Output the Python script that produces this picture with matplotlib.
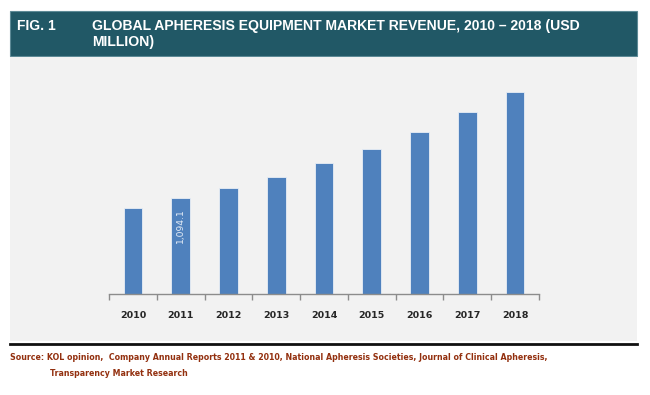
"""
Global apheresis equipment market revenue 2010-2018 (USD million)
"""

import numpy as np
import matplotlib
matplotlib.use("Agg")
import matplotlib.pyplot as plt
from matplotlib.patches import Rectangle

# data
years = ["2010", "2011", "2012", "2013", "2014", "2015", "2016", "2017", "2018"]
revenue = [984, 1094.1, 1211, 1337, 1493, 1656, 1850, 2071, 2306]
labelled = {1: "1,094.1"}

title_fig = "FIG. 1"
title_text = "GLOBAL APHERESIS EQUIPMENT MARKET REVENUE, 2010 \u2013 2018 (USD\nMILLION)"
source_1 = ("Source: KOL opinion,  Company Annual Reports 2011 & 2010, National Apheresis "
            "Societies, Journal of Clinical Apheresis,")
source_2 = "Transparency Market Research"

W, H = 650, 395
fig = plt.figure(figsize=(W / 100, H / 100), dpi=100)
fig.patch.set_facecolor("white")

def px(x, y, w, h):
    # pixel box (top-left origin) -> figure fraction
    return [x / W, 1 - (y + h) / H, w / W, h / H]

# header bar and grey panel
fig.patches.append(Rectangle((10 / W, 1 - 56 / H), 627 / W, 44.5 / H, transform=fig.transFigure,
                             facecolor="#215866", edgecolor="#5d8a96", lw=0.8, zorder=-2))
fig.patches.append(Rectangle((10 / W, 1 - 341 / H), 627 / W, 284 / H, transform=fig.transFigure,
                             facecolor="#f2f2f2", edgecolor="none", zorder=-2))
fig.lines.append(plt.Line2D([10 / W, 637 / W], [1 - 344 / H, 1 - 344 / H],
                            transform=fig.transFigure, color="#111111", lw=2.0))

fig.text(17 / W, 1 - 26 / H, title_fig, color="white", fontsize=10, fontweight="bold",
         family="Liberation Sans", va="center", ha="left")
fig.text(92 / W, 1 - 34 / H, title_text, color="white", fontsize=10.1, fontweight="bold",
         family="Liberation Sans", va="center", ha="left", linespacing=1.15)

fig.text(10 / W, 1 - 358 / H, source_1, color="#93300f", fontsize=5.65, fontweight="bold",
         va="center", ha="left")
fig.text(50 / W, 1 - 374 / H, source_2, color="#93300f", fontsize=5.65, fontweight="bold",
         va="center", ha="left")

# chart
ymax = 2500
scale = 1094.1 / 96.0
top_px = 294 - ymax / scale
ax = fig.add_axes(px(109, top_px, 430, 294 - top_px))
ax.set_zorder(5)
ax.set_facecolor("none")
x = np.arange(len(years))
ax.bar(x, revenue, width=0.39, color="#4f81bd", edgecolor="#e8eef6", linewidth=0.6, zorder=2)
for i, txt in labelled.items():
    ax.annotate(txt, (x[i], revenue[i]), xytext=(0, -7.5), textcoords="offset points",
                rotation=90, ha="center", va="top", color="#e6edf6", fontsize=6.6)

ax.set_xlim(-0.5, len(years) - 0.5)
ax.set_ylim(0, ymax)
ax.set_yticks([])
for s in ["top", "right", "left"]:
    ax.spines[s].set_visible(False)
ax.spines["bottom"].set_color("#8c8c8c")
ax.spines["bottom"].set_linewidth(1.0)
ax.set_xticks(np.arange(-0.5, len(years), 1.0))
ax.set_xticklabels([])
ax.tick_params(axis="x", which="major", direction="out", length=4, color="#8c8c8c", width=1.0)
ax.set_xticks(x, minor=True)
ax.set_xticklabels(years, minor=True, fontsize=6.8, fontweight="bold", color="#262626")
ax.tick_params(axis="x", which="minor", length=0, pad=12)

fig.savefig("out.png", dpi=100, facecolor="white")
